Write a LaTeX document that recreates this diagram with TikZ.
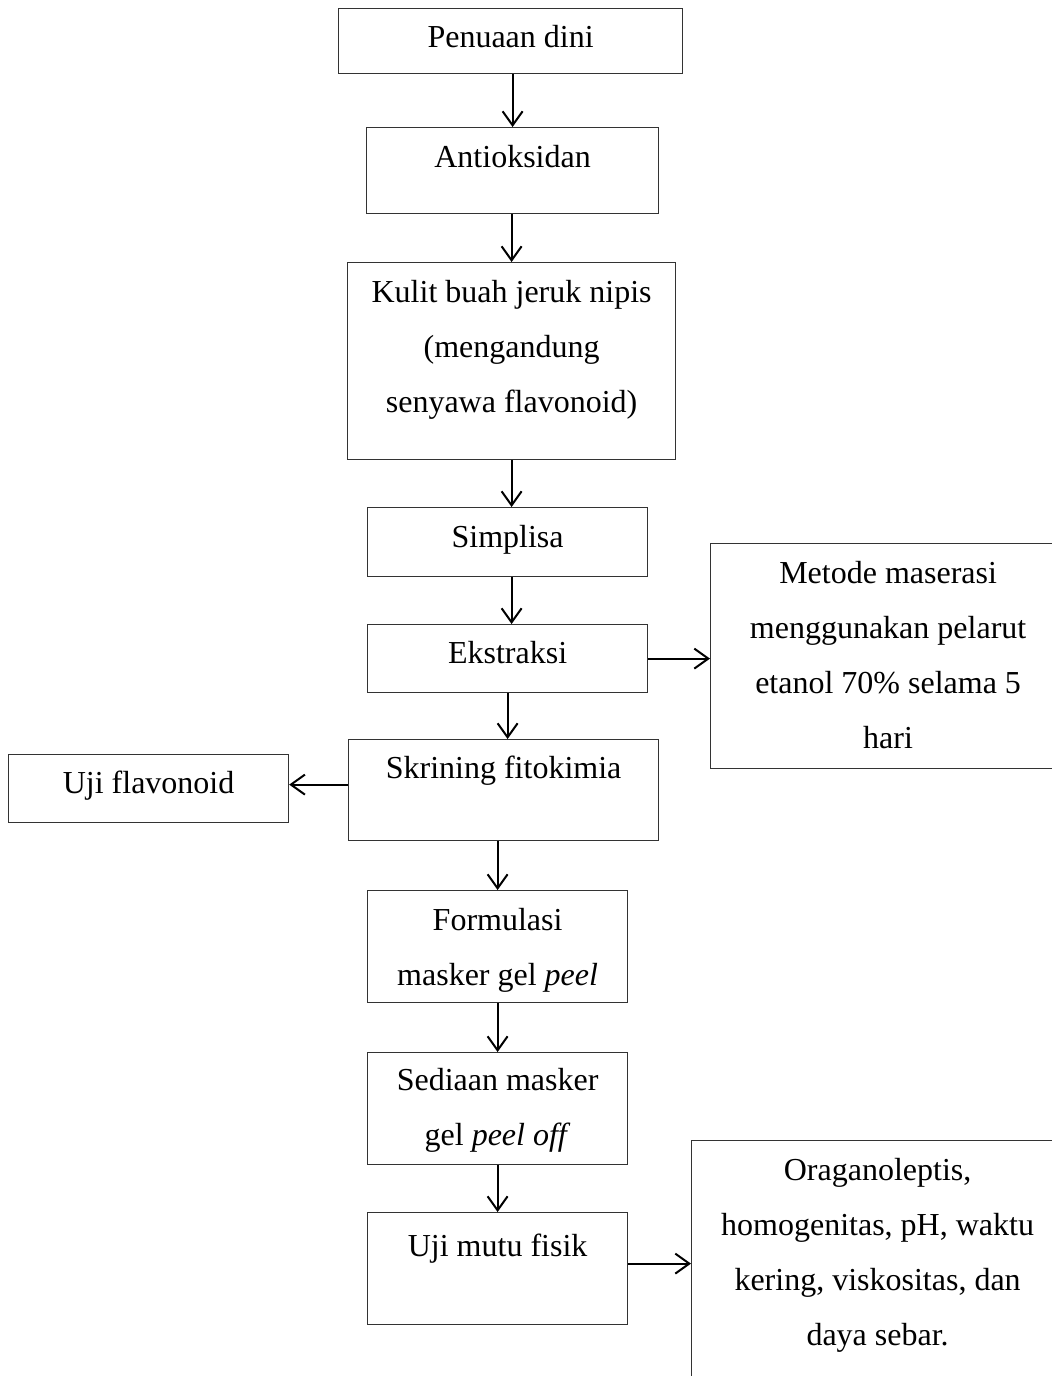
\documentclass[tikz,border=0pt]{standalone}
\usepackage{fontspec}
\setmainfont{Liberation Serif}
\usetikzlibrary{positioning,arrows.meta}

\begin{document}
\begin{tikzpicture}[x=0.5pt,y=-0.5pt,
	flowbox/.style={rectangle,draw=black!80,line width=0.6pt,inner sep=0pt,
		anchor=north west,align=center,font=\fontsize{16}{27.5}\selectfont},
	flowarrow/.style={line width=1pt,-{Straight Barb[length=7pt,width=10pt]}}]
			\useasboundingbox (0,0) rectangle (1052,1376);
			\clip (0,0) rectangle (1052,1376);
			% main column
			\node [flowbox,minimum width=172pt,text height=19.5pt,text depth=13pt] (penuaan) at (338,8) {Penuaan dini};
			\node [flowbox,minimum width=146pt,text height=20pt,text depth=23pt] (antioks) at (366,127) {Antioksidan};
			\node [flowbox,minimum width=164pt,text height=75pt,text depth=23.5pt] (kulit) at (347,262) {Kulit buah jeruk nipis\\(mengandung\\senyawa flavonoid)};
			\node [flowbox,minimum width=140pt,text height=20pt,text depth=14.5pt] (simplisa) at (367,507) {Simplisa};
			\node [flowbox,minimum width=140pt,text height=19.5pt,text depth=14.5pt] (ekstraksi) at (367,624) {Ekstraksi};
			\node [flowbox,minimum width=155pt,text height=19.5pt,text depth=31pt] (skrining) at (348,739) {Skrining fitokimia};
			\node [flowbox,minimum width=130pt,text height=47.5pt,text depth=8.5pt] (formulasi) at (367,890) {Formulasi\\masker gel \textit{peel}};
			\node [flowbox,minimum width=130pt,text height=46.5pt,text depth=9.5pt] (sediaan) at (367,1052) {Sediaan masker\\gel \textit{peel off}};
			\node [flowbox,minimum width=130pt,text height=22pt,text depth=34pt] (ujimutu) at (367,1212) {Uji mutu fisik};
			% side boxes
			\node [flowbox,minimum width=177.5pt,text height=102.5pt,text depth=10pt] (metode) at (710,543) {Metode maserasi\\menggunakan pelarut\\etanol 70\% selama 5\\hari};
			\node [flowbox,minimum width=140pt,text height=19.5pt,text depth=14.5pt] (ujiflav) at (8,754) {Uji flavonoid};
			\node [flowbox,minimum width=186pt,text height=102.5pt,text depth=27.5pt] (organo) at (691,1140) {Oraganoleptis,\\homogenitas, pH, waktu\\kering, viskositas, dan\\daya sebar.};
			% arrows
			\draw [flowarrow] (penuaan.south -| antioks.north) -- (antioks.north);
			\draw [flowarrow] (antioks.south -| kulit.north) -- (kulit.north);
			\draw [flowarrow] (kulit.south) -- (kulit.south |- simplisa.north);
			\draw [flowarrow] (simplisa.south -| kulit.south) -- (ekstraksi.north -| kulit.south);
			\draw [flowarrow] (ekstraksi.south) -- (ekstraksi.south |- skrining.north);
			\draw [flowarrow] (skrining.south -| formulasi.north) -- (formulasi.north);
			\draw [flowarrow] (formulasi.south) -- (sediaan.north);
			\draw [flowarrow] (sediaan.south) -- (ujimutu.north);
			\draw [flowarrow] (ekstraksi.east) -- (ekstraksi.east -| metode.west);
			\draw [flowarrow] ([yshift=2pt]skrining.west |- ujiflav.east) -- ([yshift=2pt]ujiflav.east);
			\draw [flowarrow] ([yshift=2.5pt]ujimutu.east) -- ([yshift=2.5pt]ujimutu.east -| organo.west);
		\end{tikzpicture}
\end{document}
